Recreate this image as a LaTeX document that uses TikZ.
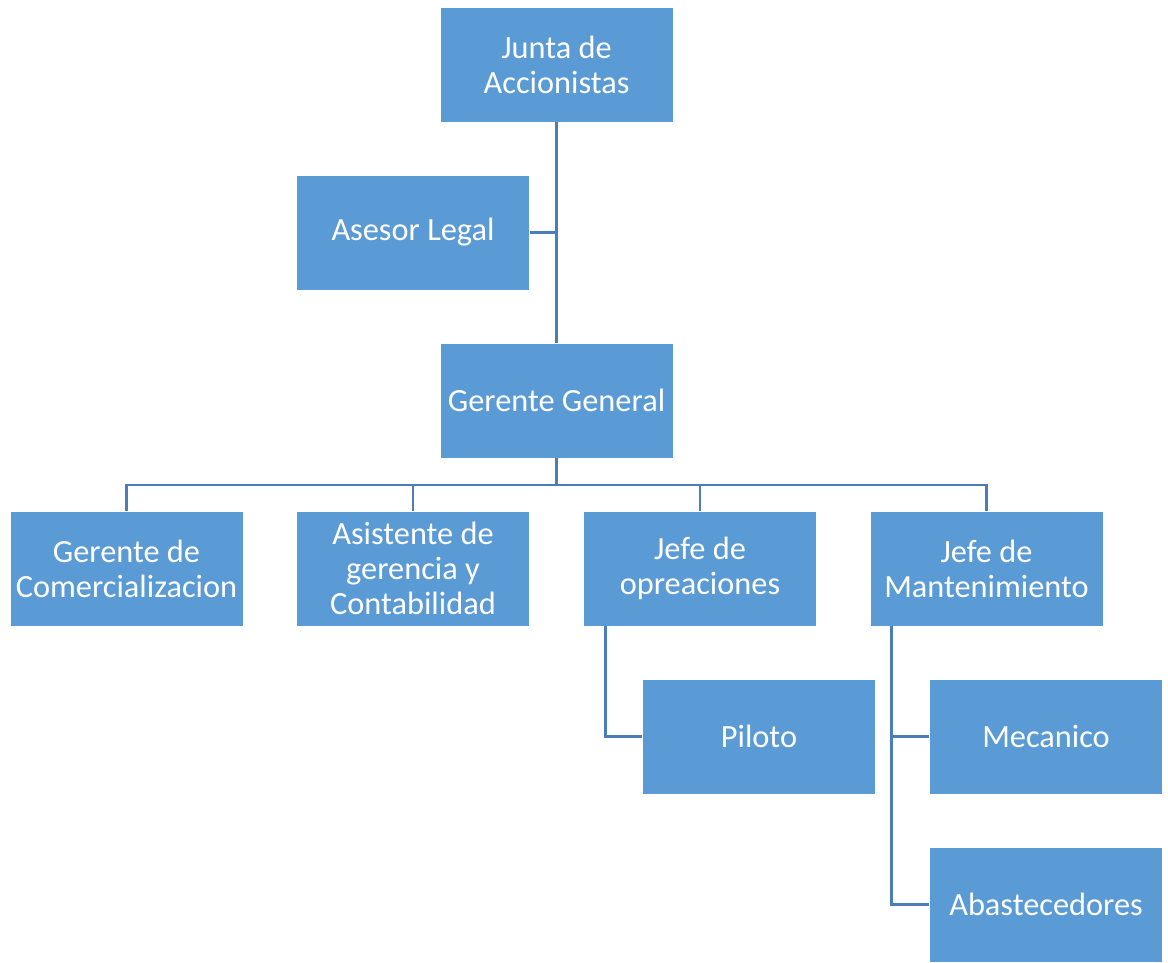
\documentclass[tikz,border=0pt]{standalone}
\usepackage{fontspec}
\setmainfont{Carlito}
\definecolor{boxblau}{HTML}{5B9BD5}
\definecolor{linieblau}{HTML}{4A7EBB}
\usetikzlibrary{positioning, calc}

\begin{document}
\begin{tikzpicture}[x=0.025cm, y=-0.025cm,
    posten/.style={draw=white, thin, fill=boxblau, text=white, align=center,
      minimum width=5.825cm, minimum height=2.875cm, inner sep=0pt,
      font=\fontsize{23}{24.9}\selectfont},
    linie/.style={draw=linieblau, line width=2pt}]
    \useasboundingbox (0,0) rectangle (1168,962);
    % obere Ebene
    \node[posten] (junta)   at (556.5, 64.5)  {Junta de\\Accionistas};
    \node[posten] (asesor)  at (413, 232.5)   {Asesor Legal};
    \node[posten] (gerente) at (556.5, 400.5) {Gerente General};
    % zweite Ebene
    \node[posten] (comerc)   at (126.5, 568.5) {Gerente de\\Comercializacion};
    \node[posten] (asist)    at (413, 568.5)   {Asistente de\\gerencia y\\Contabilidad};
    \node[posten] (jefeop)   at (700, 568.5)   {Jefe de\\opreaciones};
    \node[posten] (jefemant) at (986.5, 568.5) {Jefe de\\Mantenimiento};
    % dritte Ebene
    \node[posten] (piloto)   at (759, 736.5)  {Piloto};
    \node[posten] (mecanico) at (1046, 736.5) {Mecanico};
    \node[posten] (abast)    at (1046, 904.5) {Abastecedores};
    \coordinate (bus) at (556.5, 485);

    \draw[linie] (junta.south) -- (gerente.north);
    \draw[linie] (asesor.east) -- (asesor.east -| junta.south);
    \draw[linie] (gerente.south) -- (bus);
    \foreach \n in {comerc, asist, jefeop, jefemant}{%
      \draw[linie] (bus) -| (\n.north);
    }
    \draw[linie] ([xshift=0.55cm]jefeop.south west) |- (piloto.west);
    \draw[linie] ([xshift=0.55cm]jefemant.south west) |- (mecanico.west);
    \draw[linie] ([xshift=0.55cm]jefemant.south west) |- (abast.west);
  \end{tikzpicture}
\end{document}
